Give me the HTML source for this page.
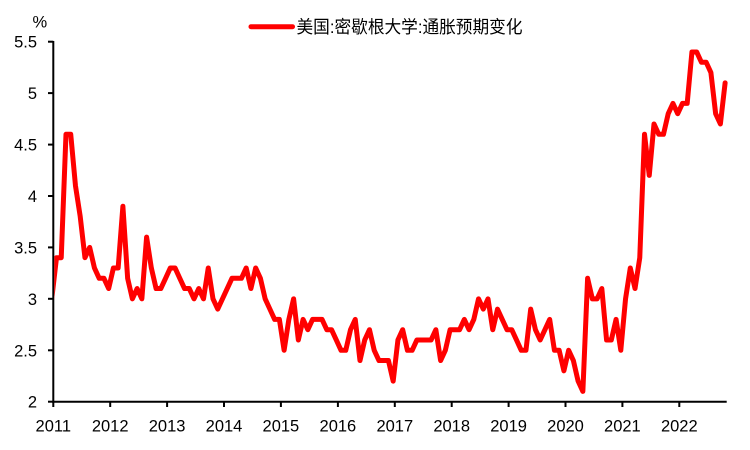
<!DOCTYPE html>
<html>
<head>
<meta charset="utf-8">
<style>
  html, body { margin: 0; padding: 0; background: #fff; }
  svg { display: block; }
  text { font-family: "Liberation Sans", "Noto Sans CJK SC", sans-serif; fill: #000; }
</style>
</head>
<body>
<svg width="750" height="450" viewBox="0 0 750 450" xmlns="http://www.w3.org/2000/svg">
  <rect width="750" height="450" fill="#fff"/>

  <!-- Legend -->
  <line x1="251" y1="26.7" x2="292.5" y2="26.7" stroke="#ff0000" stroke-width="5" stroke-linecap="round"/>
  <text x="296.5" y="33" font-size="17.5" textLength="226" lengthAdjust="spacingAndGlyphs" style="font-family:'Liberation Sans','Noto Sans CJK SC',sans-serif">美国:密歇根大学:通胀预期变化</text>

  <!-- % unit -->
  <text x="32.5" y="27.5" font-size="16.5">%</text>

  <!-- Y tick labels -->
  <g font-size="16.5" text-anchor="end">
    <text x="37" y="47.7">5.5</text>
    <text x="37" y="99.1">5</text>
    <text x="37" y="150.6">4.5</text>
    <text x="37" y="202">4</text>
    <text x="37" y="253.4">3.5</text>
    <text x="37" y="304.8">3</text>
    <text x="37" y="356.3">2.5</text>
    <text x="37" y="407.7">2</text>
  </g>

  <!-- X tick labels -->
  <g font-size="16.5" text-anchor="middle">
    <text x="53.3" y="431.5">2011</text>
    <text x="110.2" y="431.5">2012</text>
    <text x="167.1" y="431.5">2013</text>
    <text x="224.0" y="431.5">2014</text>
    <text x="280.9" y="431.5">2015</text>
    <text x="337.9" y="431.5">2016</text>
    <text x="394.8" y="431.5">2017</text>
    <text x="451.7" y="431.5">2018</text>
    <text x="508.6" y="431.5">2019</text>
    <text x="565.5" y="431.5">2020</text>
    <text x="622.4" y="431.5">2021</text>
    <text x="679.3" y="431.5">2022</text>
  </g>

  <!-- Axes -->
  <g stroke="#000" stroke-width="2" fill="none">
    <line x1="53.3" y1="41" x2="53.3" y2="402.7"/>
    <line x1="52.3" y1="401.7" x2="726.7" y2="401.7"/>
    <line x1="48" y1="41.7" x2="53.3" y2="41.7"/>
    <line x1="48" y1="93.1" x2="53.3" y2="93.1"/>
    <line x1="48" y1="144.6" x2="53.3" y2="144.6"/>
    <line x1="48" y1="196" x2="53.3" y2="196"/>
    <line x1="48" y1="247.4" x2="53.3" y2="247.4"/>
    <line x1="48" y1="298.8" x2="53.3" y2="298.8"/>
    <line x1="48" y1="350.3" x2="53.3" y2="350.3"/>
    <line x1="48" y1="401.7" x2="53.3" y2="401.7"/>
    <line x1="53.3" y1="401.7" x2="53.3" y2="407"/>
    <line x1="110.2" y1="401.7" x2="110.2" y2="407"/>
    <line x1="167.1" y1="401.7" x2="167.1" y2="407"/>
    <line x1="224.0" y1="401.7" x2="224.0" y2="407"/>
    <line x1="280.9" y1="401.7" x2="280.9" y2="407"/>
    <line x1="337.9" y1="401.7" x2="337.9" y2="407"/>
    <line x1="394.8" y1="401.7" x2="394.8" y2="407"/>
    <line x1="451.7" y1="401.7" x2="451.7" y2="407"/>
    <line x1="508.6" y1="401.7" x2="508.6" y2="407"/>
    <line x1="565.5" y1="401.7" x2="565.5" y2="407"/>
    <line x1="622.4" y1="401.7" x2="622.4" y2="407"/>
    <line x1="679.3" y1="401.7" x2="679.3" y2="407"/>
  </g>

  <!-- Series -->
  <defs>
    <clipPath id="plot">
      <rect x="54.3" y="0" width="700" height="450"/>
    </clipPath>
  </defs>
  <g clip-path="url(#plot)">
    <g transform="translate(56.5 607.42) scale(4.742 -102.86)">
      <polyline fill="none" stroke="#ff0000" stroke-width="5" stroke-linejoin="round" stroke-linecap="round" vector-effect="non-scaling-stroke"
        points="-1,3.0
        0,3.4 1,3.4 2,4.6 3,4.6 4,4.1 5,3.8 6,3.4 7,3.5 8,3.3 9,3.2 10,3.2 11,3.1
        12,3.3 13,3.3 14,3.9 15,3.2 16,3.0 17,3.1 18,3.0 19,3.6 20,3.3 21,3.1 22,3.1 23,3.2
        24,3.3 25,3.3 26,3.2 27,3.1 28,3.1 29,3.0 30,3.1 31,3.0 32,3.3 33,3.0 34,2.9 35,3.0
        36,3.1 37,3.2 38,3.2 39,3.2 40,3.3 41,3.1 42,3.3 43,3.2 44,3.0 45,2.9 46,2.8 47,2.8
        48,2.5 49,2.8 50,3.0 51,2.6 52,2.8 53,2.7 54,2.8 55,2.8 56,2.8 57,2.7 58,2.7 59,2.6
        60,2.5 61,2.5 62,2.7 63,2.8 64,2.4 65,2.6 66,2.7 67,2.5 68,2.4 69,2.4 70,2.4 71,2.2
        72,2.6 73,2.7 74,2.5 75,2.5 76,2.6 77,2.6 78,2.6 79,2.6 80,2.7 81,2.4 82,2.5 83,2.7
        84,2.7 85,2.7 86,2.8 87,2.7 88,2.8 89,3.0 90,2.9 91,3.0 92,2.7 93,2.9 94,2.8 95,2.7
        96,2.7 97,2.6 98,2.5 99,2.5 100,2.9 101,2.7 102,2.6 103,2.7 104,2.8 105,2.5 106,2.5 107,2.3
        108,2.5 109,2.4 110,2.2 111,2.1 112,3.2 113,3.0 114,3.0 115,3.1 116,2.6 117,2.6 118,2.8 119,2.5
        120,3.0 121,3.3 122,3.1 123,3.4 124,4.6 125,4.2 126,4.7 127,4.6 128,4.6 129,4.8 130,4.9 131,4.8
        132,4.9 133,4.9 134,5.4 135,5.4 136,5.3 137,5.3 138,5.2 139,4.8 140,4.7 141,5.1"/>
    </g>
  </g>
</svg>
</body>
</html>
